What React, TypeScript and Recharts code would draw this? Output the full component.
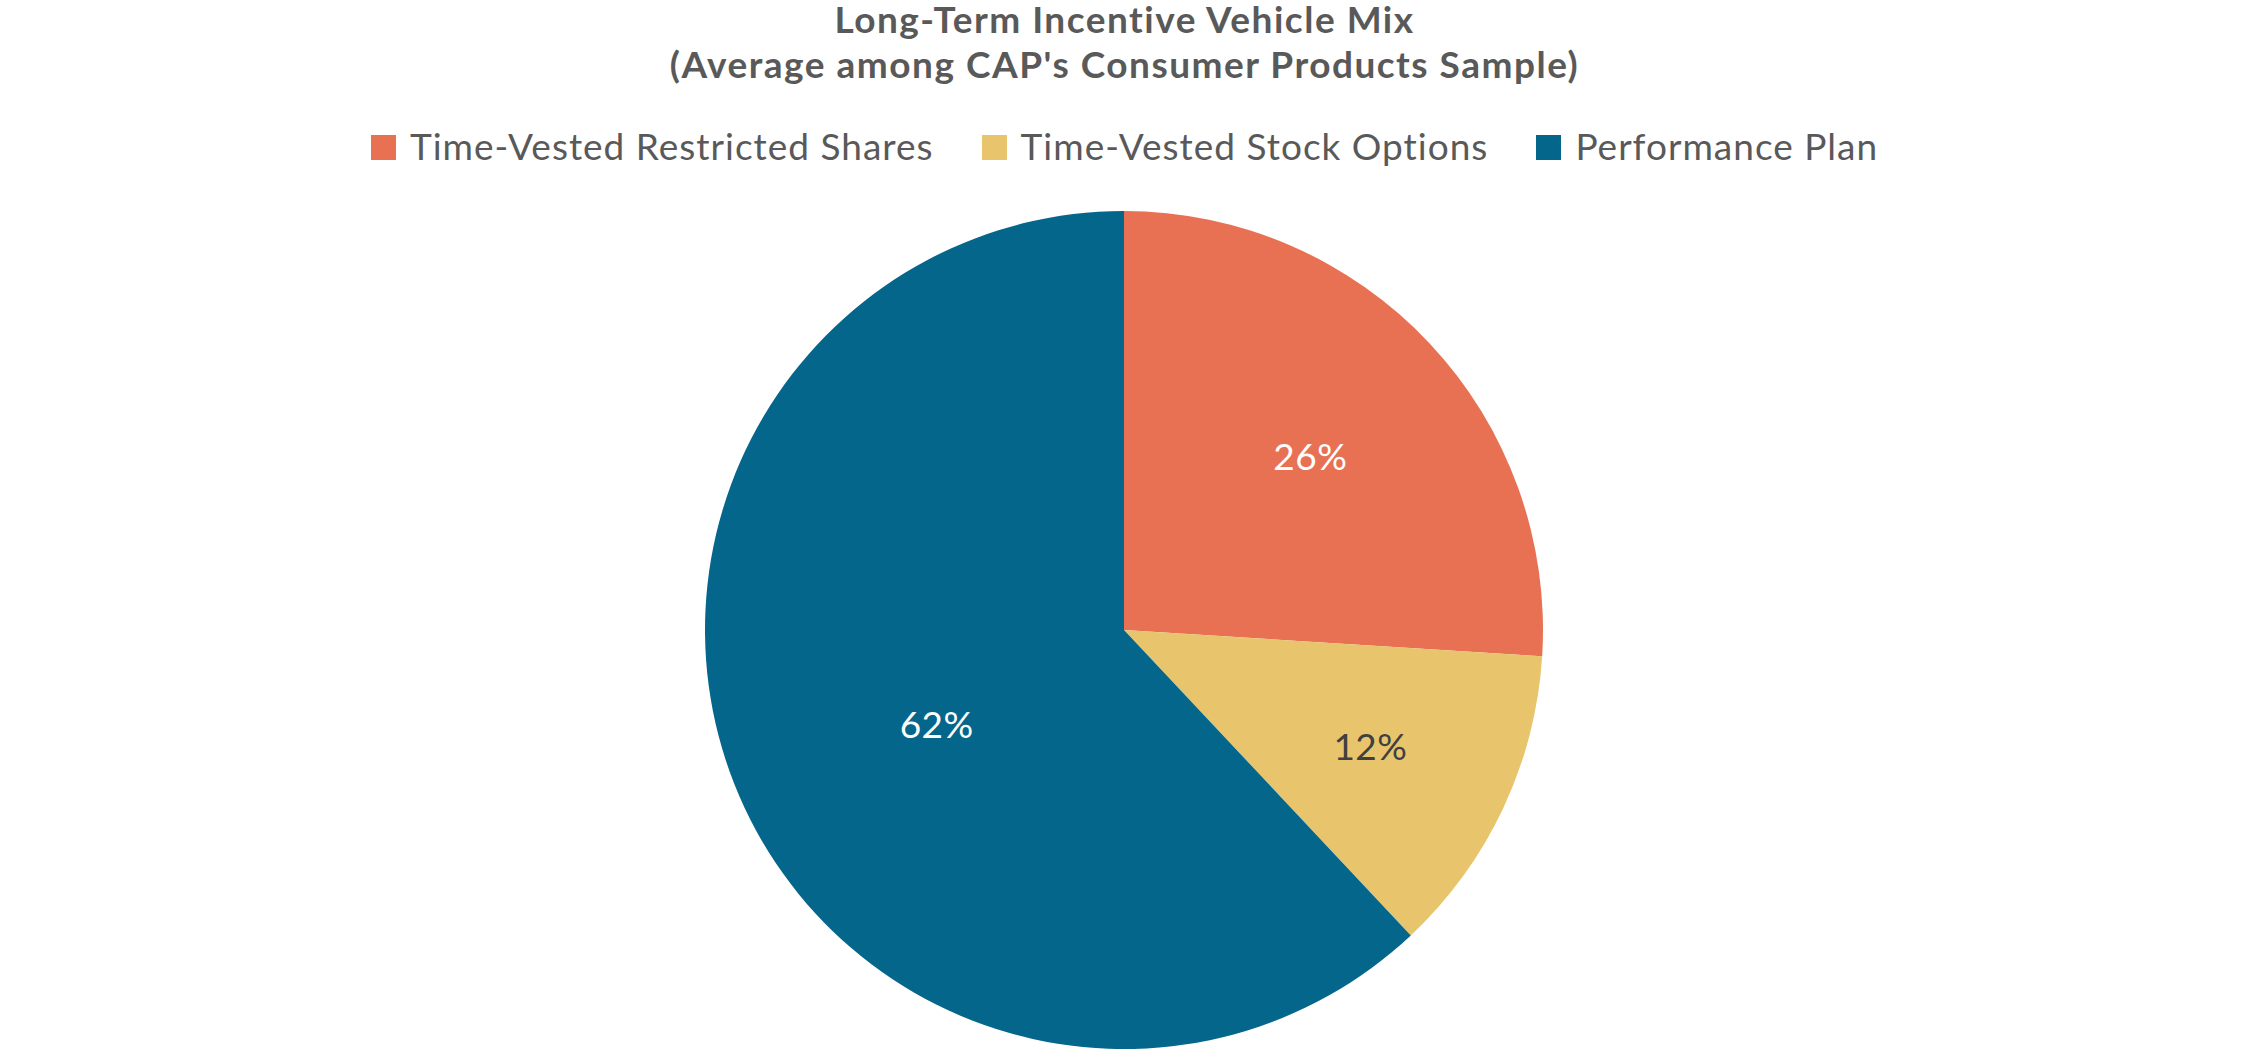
import { Cell, Legend, Pie, PieChart } from "recharts";

const CATEGORIES = [
  "Time-Vested Restricted Shares",
  "Time-Vested Stock Options",
  "Performance Plan",
];
const SHARES = [26, 12, 62];
const COLORS = ["#E87153", "#E8C56C", "#05668C"];
const LABEL_COLORS = ["#FFFFFF", "#404040", "#FFFFFF"];

// where each percentage sits inside its slice (fraction of radius, angle nudge in degrees)
const LABEL_RADIUS = [0.61, 0.65, 0.5];
const LABEL_ANGLE_SHIFT = [0, 0, 5];

const TITLE = [
  "Long-Term Incentive Vehicle Mix",
  "(Average among CAP's Consumer Products Sample)",
];

const WIDTH = 2249;
const HEIGHT = 1060;
const FONT = "Lato, 'Open Sans', sans-serif";
const TEXT = "#595959";
const RADIAN = Math.PI / 180;

const data = CATEGORIES.map((name, i) => ({ name, value: SHARES[i] }));

function renderLabel(props: any) {
  const { cx, cy, midAngle, outerRadius, index, value } = props;
  const r = outerRadius * LABEL_RADIUS[index];
  const a = (midAngle + LABEL_ANGLE_SHIFT[index]) * RADIAN;
  const x = cx + r * Math.cos(a);
  const y = cy - r * Math.sin(a);
  return (
    <text
      x={x}
      y={y}
      fill={LABEL_COLORS[index]}
      textAnchor="middle"
      dominantBaseline="central"
      fontFamily={FONT}
      fontSize={37}
      letterSpacing={0.5}
    >
      {`${value}%`}
    </text>
  );
}

function LegendRow() {
  return (
    <div
      style={{
        display: "flex",
        justifyContent: "center",
        alignItems: "center",
        fontFamily: FONT,
        fontSize: 37,
        letterSpacing: 1,
        lineHeight: "40px",
        color: TEXT,
      }}
    >
      {CATEGORIES.map((name, i) => (
        <div
          key={name}
          style={{
            display: "flex",
            alignItems: "center",
            marginLeft: i === 0 ? 0 : 48,
          }}
        >
          <span
            style={{
              width: 25,
              height: 25,
              marginTop: 2,
              marginRight: 14,
              background: COLORS[i],
              display: "inline-block",
            }}
          />
          <span>{name}</span>
        </div>
      ))}
    </div>
  );
}

export default function App() {
  return (
    <div
      style={{
        position: "absolute",
        left: 0,
        top: 0,
        width: WIDTH,
        height: HEIGHT,
        background: "#FFFFFF",
      }}
    >
      <div
        style={{
          position: "absolute",
          top: -4,
          left: 0,
          width: WIDTH,
          textAlign: "center",
          fontFamily: FONT,
          fontWeight: 700,
          fontSize: 37,
          letterSpacing: 1.5,
          lineHeight: "45px",
          color: TEXT,
        }}
      >
        {TITLE.map((line) => (
          <div key={line}>{line}</div>
        ))}
      </div>
      <PieChart width={WIDTH} height={HEIGHT}>
        <Legend
          verticalAlign="top"
          content={() => <LegendRow />}
          wrapperStyle={{ top: 126, left: 0, width: WIDTH }}
        />
        <Pie
          data={data}
          dataKey="value"
          nameKey="name"
          cx={1119}
          cy={585}
          outerRadius={419}
          startAngle={90}
          endAngle={-270}
          stroke="none"
          label={renderLabel}
          labelLine={false}
          isAnimationActive={false}
        >
          {data.map((d, i) => (
            <Cell key={d.name} fill={COLORS[i]} />
          ))}
        </Pie>
      </PieChart>
    </div>
  );
}
